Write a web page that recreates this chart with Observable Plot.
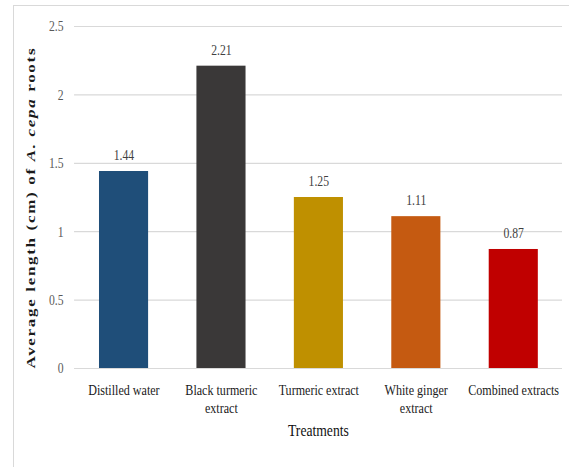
<!DOCTYPE html>
<html>
<head>
<meta charset="utf-8">
<script src="https://cdn.jsdelivr.net/npm/d3@7"></script>
<script src="https://cdn.jsdelivr.net/npm/@observablehq/plot@0.6"></script>
<style>
  html, body { margin: 0; padding: 0; background: #fff; }
  #wrap { position: relative; width: 569px; height: 467px; overflow: hidden; }
  #frame { position: absolute; left: 13px; top: 5px; width: 620px; height: 520px; border: 1px solid #d9d9d9; box-sizing: border-box; }
  #chart { position: absolute; left: 0; top: 0; }
</style>
</head>
<body>
<div id="wrap"><div id="frame"></div><div id="chart"></div></div>
<script>
const categories = ["Distilled water", "Black turmeric extract", "Turmeric extract", "White ginger extract", "Combined extracts"];
const tickLabels = ["Distilled water", "Black turmeric\nextract", "Turmeric extract", "White ginger\nextract", "Combined extracts"];
const values = [1.44, 2.21, 1.25, 1.11, 0.87];
const valueLabels = ["1.44", "2.21", "1.25", "1.11", "0.87"];
const colors = ["#1f4e79", "#3a3838", "#bf9000", "#c55a11", "#c00000"];
const yTicks = [0, 0.5, 1, 1.5, 2, 2.5];
const xTitle = "Treatments";

const data = categories.map((c, i) => ({cat: c, value: values[i], label: valueLabels[i], color: colors[i]}));

// The reference is horizontally compressed; draw wide, then squeeze.
const W = 730, H = 467, OUTW = 569;

const plot = Plot.plot({
  width: W,
  height: H,
  marginLeft: 95,
  marginRight: 9,
  marginTop: 26,
  marginBottom: 99,
  style: {fontFamily: "'Liberation Serif', 'Times New Roman', serif", background: "transparent"},
  x: {domain: categories, paddingInner: 0.5, paddingOuter: 0.25, label: null},
  y: {domain: [0, 2.5], label: null},
  marks: [
    Plot.ruleY(yTicks, {stroke: "#d9d9d9", strokeWidth: 1.2}),
    Plot.barY(data, {x: "cat", y: "value", fill: "color"}),
    Plot.text(data, {x: "cat", y: "value", text: "label", dy: -16, fontSize: 15, fill: "#404040"}),
    Plot.axisY({ticks: yTicks, tickSize: 0, tickPadding: 14, fontSize: 15, fill: "#595959", tickFormat: d => String(d), label: null}),
    Plot.axisX({tickSize: 0, tickPadding: 13, fontSize: 15.5, lineHeight: 1.2, fill: "#1a1a1a",
      tickFormat: d => tickLabels[categories.indexOf(d)], label: null}),
    Plot.text([xTitle], {frameAnchor: "bottom", dy: 67, fontSize: 17.5, fill: "#111"}),
    Plot.text(["YLABEL"], {frameAnchor: "bottom-left", dx: -50, rotate: -90, textAnchor: "start", fontSize: 17, fontWeight: "bold", fill: "#1a1a1a"})
  ]
});

plot.setAttribute("width", OUTW);
plot.setAttribute("height", H);
plot.setAttribute("preserveAspectRatio", "none");
plot.style.width = OUTW + "px";
plot.style.height = H + "px";
plot.style.maxWidth = "none";

// Replace y label with mixed italic tspans
d3.select(plot).selectAll("text").each(function() {
  const t = d3.select(this);
  if (t.text() === "YLABEL") {
    t.text(null);
    t.attr("textLength", 320).attr("lengthAdjust", "spacing");
    t.append("tspan").text("Average length (cm) of ");
    t.append("tspan").attr("font-style", "italic").text("A. cepa");
    t.append("tspan").text(" roots");
  }
});

document.getElementById("chart").appendChild(plot);
</script>
</body>
</html>
